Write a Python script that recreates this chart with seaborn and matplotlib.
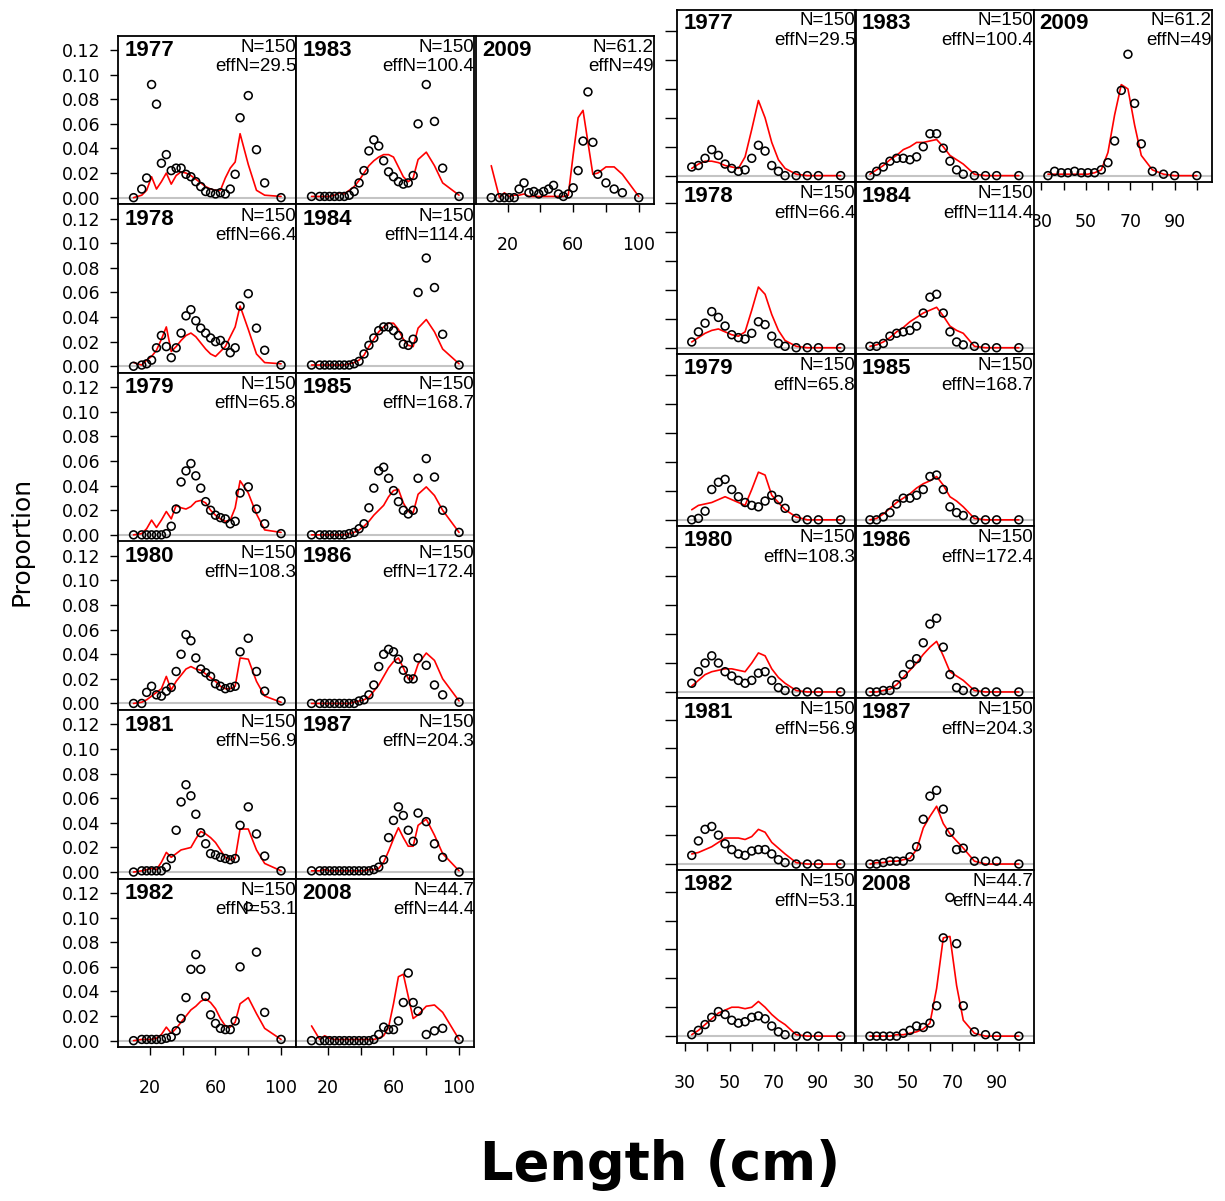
import seaborn as sns
import matplotlib.pyplot as plt

# length bins (cm)
len_left = [10, 15, 18, 21, 24, 27, 30, 33, 36, 39, 42, 45, 48, 51, 54, 57, 60, 63, 66, 69, 72, 75, 80, 85, 90, 100]
len_right = [33, 36, 39, 42, 45, 48, 51, 54, 57, 60, 63, 66, 69, 72, 75, 80, 85, 90, 100]

# panel labels
years = ["1977", "1978", "1979", "1980", "1981", "1982", "1983", "1984", "1985", "1986", "1987", "2008", "2009"]
n_vals = ["150", "150", "150", "150", "150", "150", "150", "150", "150", "150", "150", "44.7", "61.2"]
effn_vals = ["29.5", "66.4", "65.8", "108.3", "56.9", "53.1", "100.4", "114.4", "168.7", "172.4", "204.3", "44.4", "49"]

# left set: observed proportions (points) and expected (red line)
obsA_1977 = [0.000, 0.007, 0.016, 0.092, 0.076, 0.028, 0.035, 0.022, 0.024, 0.024, 0.019, 0.017, 0.013, 0.009, 0.005, 0.004, 0.003, 0.004, 0.003, 0.007, 0.019, 0.065, 0.083, 0.039, 0.012, 0.000]
expA_1977 = [0.000, 0.002, 0.006, 0.017, 0.007, 0.013, 0.020, 0.011, 0.018, 0.021, 0.020, 0.018, 0.015, 0.012, 0.009, 0.007, 0.006, 0.006, 0.016, 0.024, 0.029, 0.052, 0.027, 0.006, 0.002, 0.001]
obsA_1978 = [0.000, 0.001, 0.002, 0.005, 0.015, 0.025, 0.016, 0.007, 0.015, 0.027, 0.041, 0.046, 0.037, 0.031, 0.027, 0.023, 0.020, 0.021, 0.017, 0.011, 0.015, 0.049, 0.059, 0.031, 0.013, 0.001]
expA_1978 = [0.003, 0.001, 0.005, 0.008, 0.013, 0.022, 0.032, 0.012, 0.016, 0.021, 0.025, 0.027, 0.024, 0.019, 0.014, 0.010, 0.008, 0.012, 0.016, 0.024, 0.032, 0.049, 0.030, 0.010, 0.003, 0.002]
obsA_1979 = [0.000, 0.000, 0.000, 0.000, 0.000, 0.000, 0.001, 0.007, 0.021, 0.043, 0.052, 0.058, 0.048, 0.038, 0.027, 0.020, 0.016, 0.014, 0.013, 0.009, 0.011, 0.034, 0.039, 0.021, 0.009, 0.001]
expA_1979 = [0.000, 0.001, 0.005, 0.012, 0.006, 0.012, 0.019, 0.013, 0.024, 0.022, 0.021, 0.023, 0.027, 0.028, 0.026, 0.020, 0.016, 0.013, 0.011, 0.012, 0.022, 0.044, 0.034, 0.017, 0.004, 0.002]
obsA_1980 = [0.000, 0.000, 0.009, 0.014, 0.007, 0.006, 0.010, 0.013, 0.026, 0.040, 0.056, 0.051, 0.037, 0.028, 0.025, 0.022, 0.016, 0.014, 0.012, 0.013, 0.014, 0.042, 0.053, 0.026, 0.010, 0.002]
expA_1980 = [0.000, 0.001, 0.003, 0.006, 0.009, 0.012, 0.022, 0.011, 0.018, 0.023, 0.028, 0.030, 0.028, 0.027, 0.024, 0.021, 0.018, 0.014, 0.012, 0.012, 0.014, 0.037, 0.036, 0.018, 0.006, 0.001]
obsA_1981 = [0.000, 0.001, 0.001, 0.001, 0.001, 0.001, 0.004, 0.011, 0.034, 0.057, 0.071, 0.062, 0.047, 0.032, 0.023, 0.015, 0.014, 0.012, 0.011, 0.010, 0.011, 0.038, 0.053, 0.031, 0.013, 0.001]
expA_1981 = [0.000, 0.001, 0.002, 0.003, 0.002, 0.008, 0.016, 0.012, 0.015, 0.018, 0.019, 0.020, 0.027, 0.033, 0.031, 0.028, 0.024, 0.018, 0.012, 0.010, 0.011, 0.035, 0.035, 0.018, 0.007, 0.001]
obsA_1982 = [0.000, 0.001, 0.001, 0.001, 0.001, 0.001, 0.002, 0.003, 0.008, 0.018, 0.035, 0.058, 0.070, 0.058, 0.036, 0.021, 0.014, 0.010, 0.009, 0.009, 0.016, 0.060, 0.109, 0.072, 0.023, 0.001]
expA_1982 = [0.000, 0.001, 0.001, 0.001, 0.002, 0.005, 0.011, 0.006, 0.010, 0.015, 0.020, 0.025, 0.028, 0.032, 0.034, 0.031, 0.026, 0.018, 0.012, 0.011, 0.015, 0.030, 0.035, 0.022, 0.010, 0.001]
obsA_1983 = [0.001, 0.001, 0.001, 0.001, 0.001, 0.001, 0.001, 0.002, 0.005, 0.012, 0.022, 0.038, 0.047, 0.042, 0.030, 0.021, 0.017, 0.013, 0.011, 0.012, 0.018, 0.060, 0.092, 0.062, 0.024, 0.001]
expA_1983 = [0.001, 0.001, 0.001, 0.001, 0.002, 0.004, 0.003, 0.006, 0.009, 0.014, 0.020, 0.026, 0.030, 0.033, 0.035, 0.035, 0.033, 0.025, 0.017, 0.013, 0.016, 0.031, 0.037, 0.026, 0.012, 0.002]
obsA_1984 = [0.001, 0.001, 0.001, 0.001, 0.001, 0.001, 0.001, 0.001, 0.002, 0.004, 0.010, 0.017, 0.023, 0.029, 0.032, 0.032, 0.029, 0.025, 0.018, 0.017, 0.022, 0.060, 0.088, 0.064, 0.026, 0.001]
expA_1984 = [0.001, 0.001, 0.001, 0.001, 0.001, 0.001, 0.001, 0.002, 0.003, 0.005, 0.009, 0.016, 0.022, 0.028, 0.032, 0.035, 0.035, 0.030, 0.022, 0.017, 0.016, 0.031, 0.038, 0.028, 0.014, 0.002]
obsA_1985 = [0.000, 0.000, 0.000, 0.000, 0.000, 0.000, 0.000, 0.001, 0.002, 0.005, 0.009, 0.022, 0.038, 0.052, 0.055, 0.046, 0.036, 0.027, 0.020, 0.017, 0.020, 0.046, 0.062, 0.047, 0.020, 0.002]
expA_1985 = [0.000, 0.000, 0.000, 0.000, 0.000, 0.000, 0.000, 0.001, 0.002, 0.004, 0.007, 0.011, 0.016, 0.020, 0.024, 0.031, 0.036, 0.037, 0.026, 0.019, 0.018, 0.033, 0.039, 0.032, 0.020, 0.002]
obsA_1986 = [0.000, 0.000, 0.000, 0.000, 0.000, 0.000, 0.000, 0.000, 0.000, 0.002, 0.003, 0.007, 0.015, 0.030, 0.040, 0.044, 0.042, 0.036, 0.027, 0.020, 0.020, 0.037, 0.031, 0.015, 0.007, 0.001]
expA_1986 = [0.000, 0.000, 0.000, 0.000, 0.000, 0.000, 0.000, 0.000, 0.001, 0.002, 0.003, 0.005, 0.010, 0.015, 0.022, 0.029, 0.034, 0.037, 0.029, 0.020, 0.020, 0.032, 0.041, 0.035, 0.020, 0.002]
obsA_1987 = [0.001, 0.001, 0.001, 0.001, 0.001, 0.001, 0.001, 0.001, 0.001, 0.001, 0.001, 0.001, 0.002, 0.004, 0.010, 0.028, 0.042, 0.053, 0.046, 0.034, 0.025, 0.048, 0.041, 0.023, 0.012, 0.000]
expA_1987 = [0.001, 0.001, 0.002, 0.001, 0.001, 0.001, 0.001, 0.001, 0.001, 0.001, 0.001, 0.002, 0.002, 0.003, 0.008, 0.017, 0.027, 0.036, 0.028, 0.021, 0.021, 0.038, 0.043, 0.030, 0.015, 0.001]
obsA_2008 = [0.000, 0.000, 0.000, 0.000, 0.000, 0.000, 0.000, 0.000, 0.000, 0.000, 0.000, 0.000, 0.001, 0.005, 0.011, 0.009, 0.009, 0.016, 0.031, 0.055, 0.031, 0.024, 0.005, 0.008, 0.010, 0.001]
expA_2008 = [0.012, 0.001, 0.004, 0.002, 0.001, 0.001, 0.001, 0.001, 0.001, 0.001, 0.001, 0.001, 0.001, 0.002, 0.004, 0.011, 0.030, 0.052, 0.054, 0.036, 0.018, 0.021, 0.028, 0.029, 0.023, 0.001]
obsA_2009 = [0.000, 0.000, 0.000, 0.000, 0.000, 0.007, 0.012, 0.004, 0.005, 0.003, 0.005, 0.007, 0.010, 0.003, 0.001, 0.003, 0.008, 0.022, 0.046, 0.086, 0.045, 0.019, 0.012, 0.007, 0.004, 0.000]
expA_2009 = [0.026, 0.000, 0.004, 0.001, 0.002, 0.002, 0.003, 0.001, 0.001, 0.001, 0.001, 0.001, 0.001, 0.001, 0.001, 0.002, 0.035, 0.065, 0.071, 0.045, 0.019, 0.020, 0.025, 0.025, 0.019, 0.001]

# right set: observed proportions (points) and expected (red line)
obsB_1977 = [0.006, 0.007, 0.012, 0.018, 0.014, 0.008, 0.005, 0.003, 0.004, 0.012, 0.021, 0.017, 0.007, 0.003, 0.000, 0.000, 0.000, 0.000, 0.000]
expB_1977 = [0.005, 0.008, 0.010, 0.010, 0.009, 0.007, 0.006, 0.005, 0.013, 0.032, 0.052, 0.040, 0.023, 0.011, 0.005, 0.001, 0.000, 0.000, 0.000]
obsB_1978 = [0.004, 0.011, 0.017, 0.025, 0.021, 0.015, 0.009, 0.007, 0.006, 0.010, 0.018, 0.016, 0.008, 0.003, 0.001, 0.000, 0.000, 0.000, 0.000]
expB_1978 = [0.004, 0.007, 0.010, 0.012, 0.013, 0.011, 0.009, 0.008, 0.011, 0.026, 0.042, 0.037, 0.023, 0.012, 0.005, 0.001, 0.000, 0.000, 0.000]
obsB_1979 = [0.000, 0.001, 0.006, 0.021, 0.026, 0.028, 0.021, 0.016, 0.012, 0.010, 0.009, 0.013, 0.017, 0.014, 0.008, 0.001, 0.000, 0.000, 0.000]
expB_1979 = [0.007, 0.010, 0.011, 0.012, 0.014, 0.016, 0.014, 0.012, 0.010, 0.021, 0.033, 0.031, 0.017, 0.012, 0.007, 0.002, 0.000, 0.000, 0.000]
obsB_1980 = [0.006, 0.014, 0.020, 0.025, 0.020, 0.014, 0.011, 0.008, 0.006, 0.008, 0.013, 0.014, 0.008, 0.003, 0.001, 0.000, 0.000, 0.000, 0.000]
expB_1980 = [0.004, 0.008, 0.012, 0.014, 0.015, 0.016, 0.016, 0.015, 0.014, 0.020, 0.027, 0.025, 0.016, 0.010, 0.006, 0.001, 0.000, 0.000, 0.000]
obsB_1981 = [0.006, 0.016, 0.024, 0.026, 0.020, 0.014, 0.010, 0.007, 0.006, 0.009, 0.010, 0.010, 0.007, 0.003, 0.001, 0.000, 0.000, 0.000, 0.000]
expB_1981 = [0.007, 0.008, 0.010, 0.012, 0.015, 0.018, 0.018, 0.018, 0.017, 0.019, 0.024, 0.022, 0.015, 0.011, 0.007, 0.001, 0.000, 0.000, 0.000]
obsB_1982 = [0.001, 0.004, 0.008, 0.013, 0.017, 0.015, 0.011, 0.009, 0.010, 0.013, 0.014, 0.012, 0.007, 0.003, 0.001, 0.000, 0.000, 0.000, 0.000]
expB_1982 = [0.001, 0.004, 0.008, 0.012, 0.016, 0.018, 0.020, 0.020, 0.019, 0.020, 0.024, 0.020, 0.015, 0.011, 0.008, 0.001, 0.000, 0.000, 0.000]
obsB_1983 = [0.000, 0.003, 0.006, 0.010, 0.012, 0.012, 0.011, 0.013, 0.020, 0.029, 0.029, 0.019, 0.010, 0.004, 0.001, 0.000, 0.000, 0.000, 0.000]
expB_1983 = [0.001, 0.004, 0.007, 0.011, 0.014, 0.018, 0.020, 0.023, 0.023, 0.024, 0.025, 0.020, 0.014, 0.011, 0.008, 0.001, 0.000, 0.000, 0.000]
obsB_1984 = [0.001, 0.001, 0.003, 0.008, 0.010, 0.011, 0.012, 0.015, 0.024, 0.035, 0.037, 0.024, 0.011, 0.004, 0.002, 0.001, 0.000, 0.000, 0.000]
expB_1984 = [0.001, 0.002, 0.004, 0.007, 0.011, 0.014, 0.018, 0.021, 0.024, 0.026, 0.028, 0.022, 0.015, 0.012, 0.010, 0.001, 0.000, 0.000, 0.000]
obsB_1985 = [0.000, 0.000, 0.002, 0.005, 0.011, 0.015, 0.015, 0.017, 0.021, 0.030, 0.031, 0.021, 0.009, 0.005, 0.003, 0.000, 0.000, 0.000, 0.000]
expB_1985 = [0.000, 0.001, 0.004, 0.008, 0.012, 0.015, 0.018, 0.022, 0.025, 0.027, 0.030, 0.024, 0.016, 0.013, 0.009, 0.001, 0.000, 0.000, 0.000]
obsB_1986 = [0.000, 0.000, 0.001, 0.001, 0.005, 0.012, 0.019, 0.023, 0.034, 0.047, 0.051, 0.031, 0.012, 0.003, 0.001, 0.000, 0.000, 0.000, 0.000]
expB_1986 = [0.000, 0.000, 0.001, 0.002, 0.005, 0.010, 0.015, 0.020, 0.026, 0.031, 0.035, 0.025, 0.014, 0.011, 0.008, 0.001, 0.000, 0.000, 0.000]
obsB_1987 = [0.000, 0.000, 0.001, 0.002, 0.002, 0.002, 0.005, 0.012, 0.031, 0.047, 0.051, 0.038, 0.022, 0.010, 0.011, 0.002, 0.002, 0.002, 0.000]
expB_1987 = [0.000, 0.001, 0.001, 0.002, 0.002, 0.003, 0.004, 0.010, 0.025, 0.033, 0.040, 0.028, 0.021, 0.016, 0.011, 0.002, 0.000, 0.000, 0.000]
obsB_2008 = [0.000, 0.000, 0.000, 0.000, 0.000, 0.002, 0.004, 0.007, 0.006, 0.009, 0.021, 0.068, 0.096, 0.064, 0.021, 0.003, 0.001, 0.000, 0.000]
expB_2008 = [0.000, 0.000, 0.000, 0.000, 0.001, 0.001, 0.002, 0.003, 0.005, 0.009, 0.033, 0.068, 0.069, 0.035, 0.011, 0.002, 0.000, 0.000, 0.000]
obsB_2009 = [0.000, 0.003, 0.002, 0.002, 0.003, 0.002, 0.002, 0.002, 0.004, 0.009, 0.024, 0.059, 0.084, 0.050, 0.022, 0.003, 0.001, 0.000, 0.000]
expB_2009 = [0.001, 0.001, 0.001, 0.001, 0.001, 0.001, 0.001, 0.002, 0.004, 0.016, 0.042, 0.063, 0.060, 0.035, 0.014, 0.004, 0.001, 0.000, 0.000]

left_obs = [obsA_1977, obsA_1978, obsA_1979, obsA_1980, obsA_1981, obsA_1982, obsA_1983,
            obsA_1984, obsA_1985, obsA_1986, obsA_1987, obsA_2008, obsA_2009]
left_exp = [expA_1977, expA_1978, expA_1979, expA_1980, expA_1981, expA_1982, expA_1983,
            expA_1984, expA_1985, expA_1986, expA_1987, expA_2008, expA_2009]
right_obs = [obsB_1977, obsB_1978, obsB_1979, obsB_1980, obsB_1981, obsB_1982, obsB_1983,
             obsB_1984, obsB_1985, obsB_1986, obsB_1987, obsB_2008, obsB_2009]
right_exp = [expB_1977, expB_1978, expB_1979, expB_1980, expB_1981, expB_1982, expB_1983,
             expB_1984, expB_1985, expB_1986, expB_1987, expB_2008, expB_2009]

# (column, row) of each year inside a group
grid_pos = [(0, 0), (0, 1), (0, 2), (0, 3), (0, 4), (0, 5), (1, 0), (1, 1), (1, 2), (1, 3), (1, 4), (1, 5), (2, 0)]

sns.set_style("white")
plt.rcParams["font.family"] = ["DejaVu Sans"]
plt.rcParams["text.color"] = "black"
plt.rcParams["axes.labelcolor"] = "black"
plt.rcParams["xtick.color"] = "black"
plt.rcParams["ytick.color"] = "black"

W, H = 1225, 1201
fig = plt.figure(figsize=(W / 100, H / 100), dpi=100)


def add_px_axes(x0, y0, w, h):
    return fig.add_axes([x0 / W, 1 - (y0 + h) / H, w / W, h / H])


def draw_group(xs, obs_list, exp_list, col_x, row_y0, pw, ph, xlim, ylim,
               xticks, xticklabels, ylabels_on, ytick_len, ypad, txt_off):
    # row-major order so later rows are drawn on top of earlier ones
    order = sorted(range(len(years)), key=lambda i: (grid_pos[i][1], grid_pos[i][0]))
    for i in order:
        col, row = grid_pos[i]
        ax = add_px_axes(col_x[col], row_y0 + row * ph, pw, ph)
        ax.axhline(0, color="#c4c4c4", lw=1.5, zorder=1)
        sns.lineplot(x=xs, y=exp_list[i], ax=ax, color="red", linewidth=1.2,
                     estimator=None, zorder=2)
        sns.scatterplot(x=xs, y=obs_list[i], ax=ax, marker="o", s=32,
                        facecolor="none", edgecolor="black", linewidth=1.15, zorder=3)
        ax.set_xlim(*xlim)
        ax.set_ylim(*ylim)
        ax.set_xlabel("")
        ax.set_ylabel("")
        for sp in ax.spines.values():
            sp.set_visible(True)
            sp.set_color("black")
            sp.set_linewidth(1.3)

        show_x = (row == 5) or (col == 2)
        show_y = (col == 0)
        ax.set_xticks(xticks)
        ax.set_xticklabels(xticklabels)
        ax.set_yticks([0, 0.02, 0.04, 0.06, 0.08, 0.10, 0.12] if ylabels_on else
                      [0, 0.02, 0.04, 0.06, 0.08, 0.10])
        ax.set_yticklabels(["0.00", "0.02", "0.04", "0.06", "0.08", "0.10", "0.12"]
                           if ylabels_on else [""] * 6)
        ax.tick_params(axis="x", bottom=show_x, labelbottom=show_x, direction="out",
                       length=5.5, width=1.0, pad=17, labelsize=12.5, colors="black")
        ax.tick_params(axis="y", left=show_y, labelleft=(show_y and ylabels_on),
                       direction="out", length=ytick_len, width=1.0, pad=ypad,
                       labelsize=12.5, colors="black")

        yr_dy, n_dy, e_dy = txt_off
        ax.text(6 / pw, 1 - yr_dy / ph, years[i], transform=ax.transAxes,
                ha="left", va="center", fontsize=16, fontweight="bold",
                family="Liberation Sans", color="black")
        ax.text(1.0, 1 - n_dy / ph, "N=" + n_vals[i], transform=ax.transAxes,
                ha="right", va="center", fontsize=13.5, family="Liberation Sans",
                color="black")
        ax.text(1.0, 1 - e_dy / ph, "effN=" + effn_vals[i], transform=ax.transAxes,
                ha="right", va="center", fontsize=13.5, family="Liberation Sans",
                color="black")


# left group
draw_group(len_left, left_obs, left_exp,
           col_x=[118.3, 296.3, 476.0], row_y0=35.7, pw=178.0, ph=168.6,
           xlim=(0.7, 109.3), ylim=(-0.0054, 0.1317),
           xticks=[20, 40, 60, 80, 100], xticklabels=["20", "", "60", "", "100"],
           ylabels_on=True, ytick_len=6, ypad=7, txt_off=(15, 12, 31))

# right group
draw_group(len_right, right_obs, right_exp,
           col_x=[677.3, 855.5, 1033.5], row_y0=9.9, pw=178.0, ph=172.1,
           xlim=(26.5, 106.6), ylim=(-0.0044, 0.1147),
           xticks=[30, 40, 50, 60, 70, 80, 90, 100],
           xticklabels=["30", "", "50", "", "70", "", "90", ""],
           ylabels_on=False, ytick_len=9, ypad=2, txt_off=(14, 11, 31))

fig.text(22 / W, 1 - 541 / H, "Proportion", rotation=90, ha="center", va="center",
         fontsize=18, color="black")
fig.text(660 / W, 1 - 1165 / H, "Length (cm)", ha="center", va="center",
         fontsize=38, fontweight="bold", color="black")

fig.savefig("out.png", dpi=100)
